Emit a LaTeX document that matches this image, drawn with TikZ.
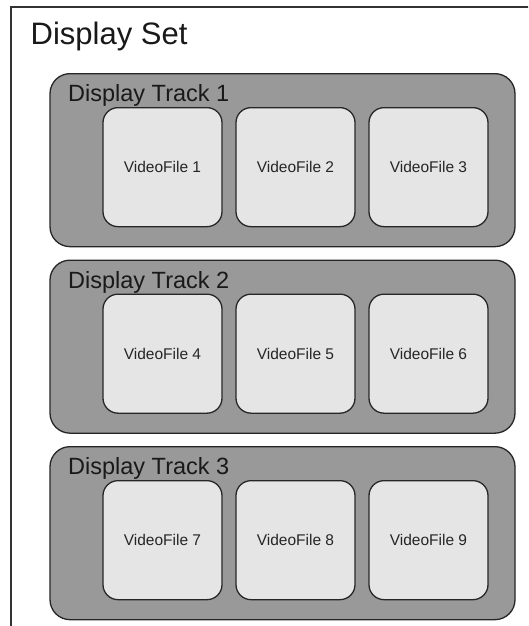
\documentclass[tikz,border=0pt]{standalone}
\usepackage{fontspec}
\setmainfont{Liberation Sans}
\begin{document}
\begin{tikzpicture}[x=1pt,y=-1pt,
  frameline/.style={draw=black!80, line width=1.6pt},
  trackbox/.style={draw=black!85, line width=1.3pt, fill=black!40, rounded corners=20pt,
    minimum width=465pt, minimum height=173pt, inner sep=0pt, anchor=north},
  videobox/.style={draw=black!85, line width=1.3pt, fill=black!10, rounded corners=15pt,
    minimum width=119pt, minimum height=119pt, inner sep=0pt, anchor=north,
    font=\fontsize{15.5}{18}\selectfont, text=black!85},
  tracklabel/.style={anchor=base west, inner sep=0pt, font=\fontsize{23.5}{28}\selectfont, text=black!90},
  titlelabel/.style={anchor=base west, inner sep=0pt, font=\fontsize{31}{36}\selectfont, text=black!90}]
\useasboundingbox (0,0) rectangle (528,626);
\fill[white] (0,0) rectangle (528,626);
% outer container: only its left and top sides fall inside the page
\coordinate (setbottom) at (11,640);
\coordinate (setcorner) at (11,7);
\coordinate (setright) at (540,7);
\begin{scope}
\clip (0,0) rectangle (528,626);
\draw[frameline] (setbottom) -- (setcorner) -- (setright);
\end{scope}
\node[titlelabel] (settitle) at (30.5,45) {Display Set};
% tracks with their video files
\foreach \t/\top in {1/73, 2/259.5, 3/446} {
  \node[trackbox] (track\t) at (282.5,\top) {};
  \node[tracklabel] (tracklabel\t) at (68,\top+28.5) {Display Track \t};
}
\foreach \t/\top in {1/73, 2/259.5, 3/446} {
  \foreach \c/\x in {1/162.5, 2/295.5, 3/428.5} {
    \pgfmathtruncatemacro{\n}{(\t-1)*3+\c}
    \node[videobox] (video\n) at (\x,\top+34) {VideoFile \n};
  }
}
\end{tikzpicture}
\end{document}
